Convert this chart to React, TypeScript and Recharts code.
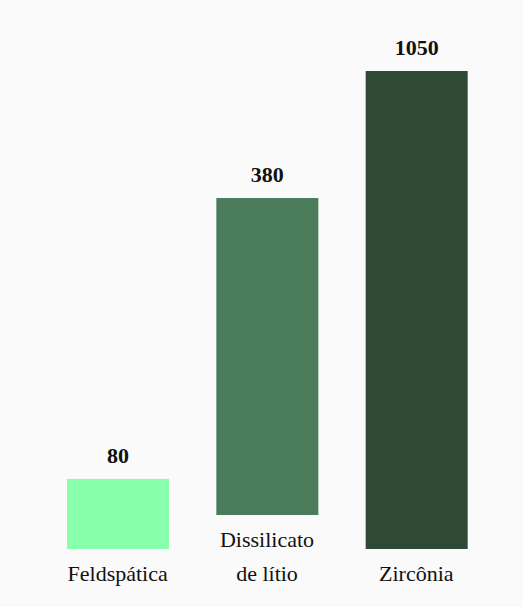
import { BarChart, Bar, XAxis, YAxis, Cell, LabelList } from "recharts";

const MATERIALS = ["Feldspática", "Dissilicato de lítio", "Zircônia"];
const TICK_LINES = [["Feldspática"], ["Dissilicato", "de lítio"], ["Zircônia"]];
const VALUES = [80, 380, 1050];
const BAR_COLORS = ["#88ffaa", "#4a7c5c", "#2e4a35"];

const FONT = "Liberation Serif, Times New Roman, DejaVu Serif, serif";
const LINE_GAP = 34;

const data = MATERIALS.map((name, i) => ({ name, value: VALUES[i] }));

// extra label lines push the column up, so the bar sits higher
const lift = (i: number) => (TICK_LINES[i].length - 1) * LINE_GAP;

const BarShape = (props: any) => {
  const { x, y, width, height, fill, index } = props;
  return <rect x={x} y={y - lift(index)} width={width} height={height} fill={fill} />;
};

const ValueLabel = (props: any) => {
  const { x, y, width, value, index } = props;
  return (
    <text
      x={x + width / 2}
      y={y - lift(index) - 16}
      textAnchor="middle"
      style={{ fontFamily: FONT, fontSize: 22, fontWeight: "bold" }}
      fill="#111"
    >
      {value}
    </text>
  );
};

const CategoryTick = (props: any) => {
  const { x, y, index } = props;
  const lines = TICK_LINES[index] || [];
  return (
    <g>
      {lines.map((line, i) => (
        <text
          key={i}
          x={x}
          y={y + 32 - (lines.length - 1 - i) * LINE_GAP}
          textAnchor="middle"
          style={{ fontFamily: FONT, fontSize: 22 }}
          fill="#111"
        >
          {line}
        </text>
      ))}
    </g>
  );
};

export default function App() {
  return (
    <div style={{ position: "fixed", inset: 0, background: "#fafafa", fontFamily: FONT }}>
      <BarChart
        width={523}
        height={607}
        data={data}
        margin={{ top: 71, right: 32, left: 43, bottom: 0 }}
      >
        <XAxis
          dataKey="name"
          axisLine={false}
          tickLine={false}
          tickSize={0}
          tickMargin={0}
          height={58}
          interval={0}
          tick={<CategoryTick />}
        />
        <YAxis hide type="number" scale="log" domain={[51.4, 1050]} allowDataOverflow />
        <Bar dataKey="value" barSize={102} shape={<BarShape />} isAnimationActive={false}>
          {data.map((_, i) => (
            <Cell key={i} fill={BAR_COLORS[i]} />
          ))}
          <LabelList dataKey="value" content={<ValueLabel />} />
        </Bar>
      </BarChart>
    </div>
  );
}
